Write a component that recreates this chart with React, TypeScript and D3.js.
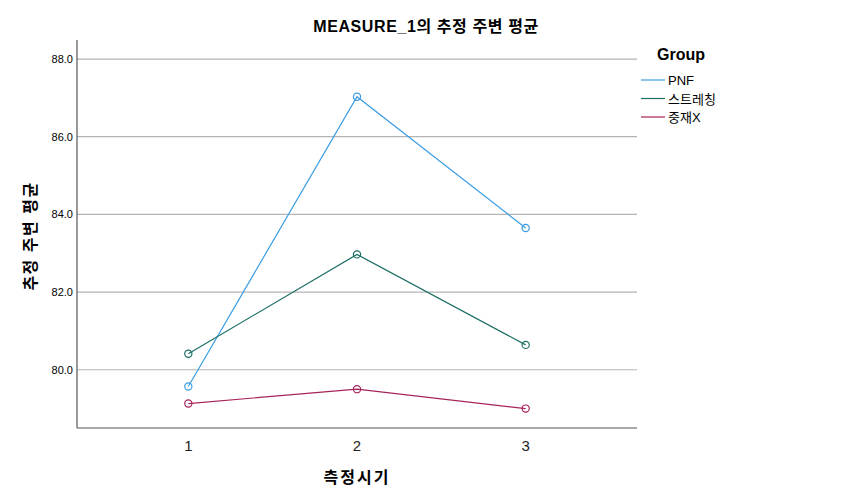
import React from 'react'
import * as d3 from 'd3'

const times = [1, 2, 3]
const yTicks = [80, 82, 84, 86, 88]
const groups = ['PNF', '스트레칭', '중재X']
const colors = ['#3b9de3', '#1e6f66', '#a6235a']
const pnf = [79.57, 87.03, 83.65]
const stretching = [80.41, 82.97, 80.64]
const none = [79.13, 79.5, 79.0]
const series = [pnf, stretching, none]

const font = '"Liberation Sans", Arial, "Noto Sans CJK KR", sans-serif'

export default function App() {
  const width = 853
  const height = 503
  const left = 77
  const right = 637
  const top = 40
  const bottom = 428

  const x = d3.scalePoint<number>().domain(times).range([left, right]).padding(0.66)
  const y = d3.scaleLinear().domain([78.5, 88.49]).range([bottom, top])
  const line = d3
    .line<number>()
    .x((_, i) => x(times[i]) as number)
    .y(d => y(d))

  return (
    <svg
      width={width}
      height={height}
      style={{ position: 'absolute', left: 0, top: 0, background: '#fff', fontFamily: font }}
    >
      <text x={426} y={32} textAnchor="middle" fontSize={16} fontWeight="bold" letterSpacing={0.6}>
        MEASURE_1의 추정 주변 평균
      </text>
      {/* grid */}
      {yTicks.map(t => (
        <g key={t}>
          <line x1={left} x2={right} y1={y(t)} y2={y(t)} stroke="#b4b4b4" strokeWidth={1.2} />
          <text x={73} y={y(t) + 4} textAnchor="end" fontSize={11}>
            {t.toFixed(1)}
          </text>
        </g>
      ))}
      {/* axes */}
      <line x1={left} x2={left} y1={top} y2={bottom} stroke="#555" strokeWidth={1.2} />
      <line x1={left} x2={right} y1={bottom} y2={bottom} stroke="#555" strokeWidth={1.2} />
      {times.map(t => (
        <text key={t} x={x(t)} y={451} textAnchor="middle" fontSize={15} fill="#222">
          {t}
        </text>
      ))}
      <text x={357} y={483} textAnchor="middle" fontSize={16} fontWeight="bold" letterSpacing={2}>
        측정시기
      </text>
      <text
        transform={`translate(36,${(top + bottom) / 2 + 2}) rotate(-90)`}
        textAnchor="middle"
        fontSize={16}
        fontWeight="bold"
        letterSpacing={1.5}
      >
        추정 주변 평균
      </text>
      {/* series */}
      {series.map((s, k) => (
        <g key={groups[k]}>
          <path d={line(s) || ''} fill="none" stroke={colors[k]} strokeWidth={1.2} />
          {s.map((v, i) => (
            <circle
              key={i}
              cx={x(times[i])}
              cy={y(v)}
              r={3.6}
              fill="none"
              stroke={colors[k]}
              strokeWidth={1.2}
            />
          ))}
        </g>
      ))}
      {/* legend */}
      <text x={657} y={60} fontSize={16} fontWeight="bold">
        Group
      </text>
      {groups.map((g, k) => (
        <g key={g} transform={`translate(641,${80 + k * 18.5})`}>
          <line x1={0} x2={24} y1={0} y2={0} stroke={colors[k]} strokeWidth={1.2} />
          <text x={27} y={5} fontSize={13}>
            {g}
          </text>
        </g>
      ))}
    </svg>
  )
}
